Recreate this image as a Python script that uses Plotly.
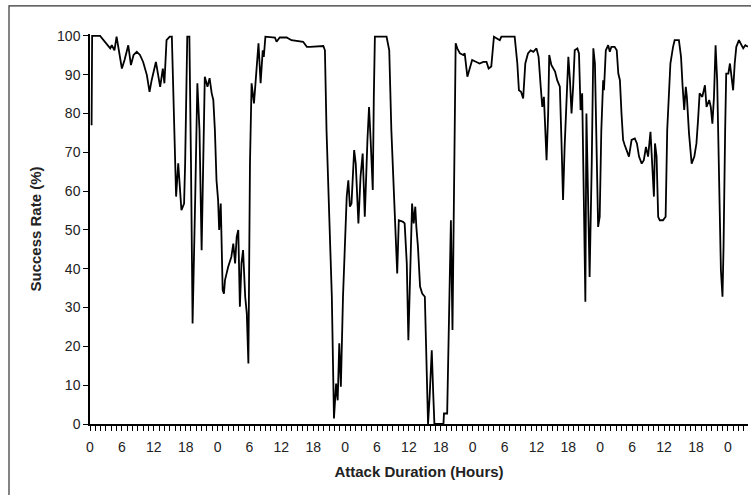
import plotly.graph_objects as go

# Elapsed attack time (hours) and measured success rate (%)
hours = [
    0.3, 0.4, 1.9, 2.8, 3.8, 4.1, 4.6, 5.0, 5.3, 6.0, 6.5, 6.9, 7.2, 7.7, 8.2, 8.8,
    9.4, 10.0, 10.7, 11.2, 11.6, 12.4, 12.9, 13.2, 13.7, 14.0, 14.4, 15.0, 15.4, 15.5,
    16.0, 16.2, 16.6, 16.9, 17.2, 17.7, 17.9, 18.3, 18.7, 19.0, 19.3, 19.8, 20.2, 20.6,
    21.0, 21.3, 21.6, 22.1, 22.5, 22.9, 23.2, 23.5, 23.8, 24.1, 24.3, 24.6, 24.96, 25.2,
    25.4, 26.0, 26.6, 26.96, 27.3, 27.6, 27.9, 28.2, 28.5, 28.8, 29.2, 29.5, 29.8, 30.1,
    30.4, 30.85, 31.2, 31.7, 32.1, 32.5, 32.7, 33.0, 34.8, 35.1, 35.7, 37.0, 37.9, 40.1, 40.8,
    41.4, 43.9, 44.2, 44.5, 45.1, 45.5, 45.9, 46.3, 46.6, 46.9, 47.2, 47.6, 48.3, 48.6,
    48.9, 49.2, 49.7, 50.0, 50.5, 50.9, 51.3, 51.7, 52.2, 52.5, 52.8, 53.2, 53.4, 53.6,
    55.8, 56.3, 56.7, 57.0, 57.2, 57.5, 57.8, 58.1, 58.9, 59.2, 59.6, 59.9, 60.3, 60.6,
    60.9, 61.2, 61.4, 61.7, 62.1, 62.5, 63.0, 63.3, 63.6, 63.9, 64.3, 64.6, 64.8, 66.5,
    66.6, 67.2, 67.5, 67.9, 68.2, 68.5, 68.8, 69.1, 69.6, 70.2, 70.5, 71.0, 71.5, 71.9,
    72.7, 73.3, 74.0, 74.6, 75.0, 75.5, 76.0, 77.1, 77.4, 79.9, 80.4, 80.7, 81.1, 81.5,
    81.9, 82.4, 82.9, 83.4, 84.0, 84.4, 84.8, 85.1, 85.4, 85.7, 85.9, 86.2, 86.4, 86.8,
    87.5, 87.9, 88.4, 88.7, 89.0, 89.3, 89.65, 90.0, 90.3, 90.6, 90.9, 91.2, 91.7, 92.0,
    92.3, 92.6, 93.0, 93.2, 93.4, 93.7, 94.0, 94.4, 94.7, 95.0, 95.3, 95.6, 95.9,
    96.2, 96.55, 96.7, 97.05, 97.5, 97.8, 98.1, 98.7, 99.1, 99.4, 99.7, 100.0, 100.3,
    100.6, 100.9, 101.4, 101.9, 102.5, 102.9, 103.3, 103.8, 104.2, 104.6, 105.0, 105.45,
    105.8, 106.1, 106.3, 106.6, 106.9, 107.2, 107.8, 108.3, 108.6, 109.0, 109.2, 109.7,
    110.0, 110.8, 111.2, 111.5, 111.8, 112.1, 112.3, 112.7, 113.2, 113.7, 114.1, 114.4,
    114.7, 115.2, 115.7, 116.0, 116.5, 116.8, 117.1, 117.4, 117.7, 118.0, 118.4, 118.7,
    119.0, 119.2, 119.5, 119.7, 120.1, 120.4, 120.7, 121.0, 121.3, 121.6, 122.1, 122.6,
    122.9, 123.3, 123.8,
]
success = [
    77, 100, 100, 98.5, 96.8, 97.6, 96.3, 99.8, 97.2, 91.6, 93.8, 95.9, 97.6, 92.5, 95.1, 95.9,
    95.1, 93.3, 89.9, 85.6, 88.6, 93.3, 88.6, 86.9, 91.6, 87.8, 98.9, 99.8, 99.8, 93.8,
    62.9, 58.6, 67.2, 61.0, 55.1, 56.8, 67.2, 99.8, 99.8, 67.2, 25.9, 58.6, 87.8, 75.7,
    44.8, 67.2, 89.5, 86.9, 89.1, 85.2, 83.5, 75.7, 62.8, 57.7, 50.0, 56.8, 34.5, 33.6,
    37.1, 40.5, 43.1, 46.5, 41.4, 48.2, 50.0, 30.2, 41.4, 44.8, 32.8, 28.5, 15.6, 67.2,
    87.8, 82.6, 88.6, 98.1, 87.8, 96.3, 94.6, 99.8, 99.6, 98.5, 99.6, 99.6, 98.9, 98.5, 97.2,
    97.2, 97.4, 96.3, 75.7, 48.2, 32.8, 1.4, 10.4, 6.1, 20.8, 9.6, 32.8, 58.6, 62.8,
    56, 56.8, 70.6, 67.1, 51.7, 63.7, 69.7, 53.4, 73.2, 81.7, 73.2, 60.3, 84.3, 99.8,
    99.8, 96.3, 75.7, 64.6, 60.3, 50, 38.8, 52.5, 52.1, 51.7, 41.4, 21.6, 41.4, 56.8,
    51.7, 56, 50.8, 45.7, 35.4, 33.6, 32.8, 15.6, 0, 7, 19, 7, 0, 0,
    2.7, 2.7, 24.2, 52.5, 24.2, 60.3, 98.1, 96.8, 95.5, 95.1, 95.5, 89.5, 92.1, 93.8,
    93.3, 92.9, 93.3, 93.3, 91.6, 92.1, 99.8, 98.9, 99.8, 99.8, 92.9, 86, 85.6, 83.9,
    92.9, 95.5, 96.3, 95.9, 96.8, 94.6, 86.9, 81.7, 84.3, 74, 68, 80, 95.1, 92.5,
    90.8, 88.6, 86.9, 73.2, 57.7, 71.4, 84.3, 94.6, 88.6, 80.0, 86.9, 96.3, 96.8, 95.5,
    80.9, 85.2, 50.0, 31.5, 80.0, 58.6, 37.9, 67.1, 96.8, 92.9, 67.1, 50.8, 53.4,
    75.7, 88.6, 86.0, 96.3, 97.6, 95.9, 97.2, 97.2, 96.3, 90.3, 88.6, 80, 73.2,
    71.9, 70.6, 68.9, 73.2, 73.6, 72.3, 68.9, 67.1, 68, 71.4, 68.9, 75.3,
    67.1, 58.6, 72.3, 68.9, 53.4, 52.5, 52.5, 53.4, 75.7, 90.3, 92.9, 97.2,
    98.9, 98.9, 94.6, 86.9, 80.9, 86.9, 84.3, 74.9, 67.1, 68.9, 72.3, 78.3,
    85.2, 84.3, 87.3, 81.7, 83.5, 81.7, 77.4, 84.3, 97.6, 88.6, 58.6, 39.7,
    32.8, 45.7, 75.7, 90.3, 90.3, 92.9, 89.5, 86, 92.9, 97.2, 98.9, 97.6,
    96.8, 97.6, 97.2,
]

x_tick_hours = list(range(0, 124))
x_tick_labels = [str(h % 24) if h % 6 == 0 else "" for h in x_tick_hours]
y_tick_values = list(range(0, 101, 10))

fig = go.Figure()
fig.add_trace(go.Scatter(
    x=hours, y=success, mode="lines",
    line=dict(color="#000000", width=1.8),
    showlegend=False, hoverinfo="skip",
))

font_family = "Liberation Sans, Arial, sans-serif"

fig.update_layout(
    width=751, height=495,
    margin=dict(l=90, r=3, t=34, b=71, pad=0, autoexpand=False),
    paper_bgcolor="white", plot_bgcolor="white",
    font=dict(family=font_family, size=14, color="#222222"),
    xaxis=dict(
        range=[0, 123.8], automargin=False,
        tickmode="array", tickvals=x_tick_hours, ticktext=x_tick_labels,
        ticks="outside", ticklen=5, tickwidth=1, tickcolor="#000000",
        showline=True, linecolor="#000000", linewidth=1.5,
        showgrid=False, zeroline=False,
        tickfont=dict(size=14), ticklabelstandoff=4,
        title=dict(text="<b>Attack Duration (Hours)</b>", font=dict(size=15), standoff=13),
    ),
    yaxis=dict(
        range=[0, 100.5], automargin=False,
        tickmode="array", tickvals=y_tick_values,
        ticks="outside", ticklen=5, tickwidth=1, tickcolor="#000000",
        showline=True, linecolor="#000000", linewidth=1.5,
        showgrid=False, zeroline=False,
        tickfont=dict(size=14),
        title=dict(text="<b>Success Rate (%)</b>", font=dict(size=15), standoff=12),
    ),
    shapes=[dict(
        type="rect", xref="paper", yref="paper",
        x0=(9 - 90) / 658, x1=1.03, y0=-0.2, y1=(424 - 8) / 388,
        line=dict(color="#333333", width=1.2), fillcolor="rgba(0,0,0,0)", layer="below",
    )],
)

fig.write_html(
    "out.html",
    config={"displayModeBar": False},
    post_script="document.body.style.margin='0';document.body.style.overflow='hidden';",
)
